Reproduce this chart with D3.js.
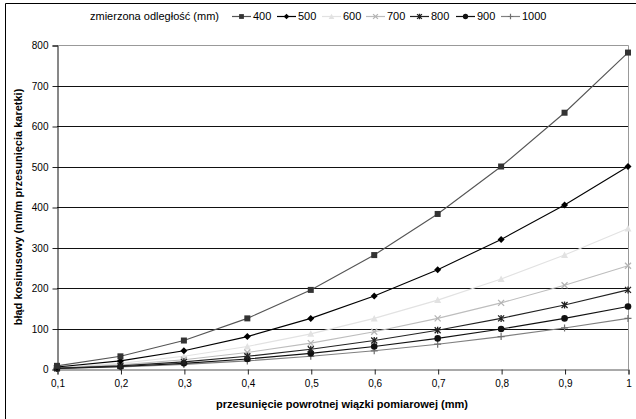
<!DOCTYPE html>
<html><head><meta charset="utf-8">
<script src="https://cdnjs.cloudflare.com/ajax/libs/d3/7.8.5/d3.min.js"></script>
<style>body{margin:0;background:#fff;font-family:"Liberation Sans",Arial,sans-serif;}</style>
</head><body>
<svg id="c" width="636" height="419"></svg>
<script>
const xValues = [0.1,0.2,0.3,0.4,0.5,0.6,0.7,0.8,0.9,1.0];
const xTickLabels = ["0,1","0,2","0,3","0,4","0,5","0,6","0,7","0,8","0,9","1"];
const yTicks = [0,100,200,300,400,500,600,700,800];
const seriesNames = ["400","500","600","700","800","900","1000"];
const s400 = [7.8,31.3,70.3,125,195.3,281.3,382.8,500,632.8,781.3];
const s500 = [5,20,45,80,125,180,245,320,405,500];
const s600 = [3.5,13.9,31.3,55.6,86.8,125,170.1,222.2,281.3,347.2];
const s700 = [2.6,10.2,23,40.8,63.8,91.8,125,163.3,206.6,255.1];
const s800 = [2,7.8,17.6,31.3,48.8,70.3,95.7,125,158.2,195.3];
const s900 = [1.5,6.2,13.9,24.7,38.6,55.6,75.6,98.8,125,154.3];
const s1000 = [1.25,5,11.3,20,31.3,45,61.3,80,101.3,125];
const seriesValues = [s400,s500,s600,s700,s800,s900,s1000];

const styles = [
  {line:"#555", fill:"#333", stroke:"#333", m:"square"},
  {line:"#000", fill:"#000", stroke:"#000", m:"diamond"},
  {line:"#e2e2e2", fill:"#e2e2e2", stroke:"#e2e2e2", m:"triangle"},
  {line:"#bdbdbd", fill:"none", stroke:"#b5b5b5", m:"x"},
  {line:"#222", fill:"none", stroke:"#222", m:"star"},
  {line:"#111", fill:"#111", stroke:"#111", m:"circle"},
  {line:"#808080", fill:"none", stroke:"#707070", m:"plus"}
];

const svg = d3.select("#c");
const L=57, R=628, T=45, B=369;
const x = d3.scaleLinear().domain([0.1,1]).range([L,R]);
const y = d3.scaleLinear().domain([0,800]).range([B,T]);

// outer frame (only top and left visible)
svg.append("path").attr("d","M5.5,419V3.5H636").attr("fill","none").attr("stroke","#000").attr("stroke-width",1);

// gridlines
svg.append("g").selectAll("line").data(yTicks.filter(d=>d>0 && d<800)).join("line")
  .attr("x1",L).attr("x2",R).attr("y1",d=>Math.round(y(d))+0.5).attr("y2",d=>Math.round(y(d))+0.5)
  .attr("stroke","#111").attr("stroke-width",1);
// plot border (top, right)
svg.append("path").attr("d",`M${L},${T+0.5}H${R+0.5}V${B}`).attr("fill","none").attr("stroke","#999");

// axes
const yAxis = d3.axisLeft(y).tickValues(yTicks).tickSize(5).tickPadding(4);
const gy = svg.append("g").attr("transform",`translate(${L+0.5},0.5)`).call(yAxis);
const xAxis = d3.axisBottom(x).tickValues(xValues).tickFormat((d,i)=>xTickLabels[i]).tickSize(5).tickPadding(5);
const gx = svg.append("g").attr("transform",`translate(0.5,${B+0.5})`).call(xAxis);
gy.select(".domain").attr("stroke","#111");
gx.select(".domain").attr("stroke","#555");
[gx,gy].forEach(g=>{
  g.selectAll(".tick line").attr("stroke","#222");
  g.selectAll("text").attr("font-family","Liberation Sans, Arial, sans-serif").attr("font-size",10).attr("fill","#000");
});

// axis titles
svg.append("text").attr("x",342).attr("y",408).attr("text-anchor","middle")
  .attr("font-weight","bold").attr("font-size",11).text("przesunięcie powrotnej wiązki pomiarowej (mm)");
svg.append("text").attr("transform","translate(22,207) rotate(-90)").attr("text-anchor","middle")
  .attr("font-weight","bold").attr("font-size",11).text("błąd kosinusowy (nm/m przesunięcia karetki)");

function marker(g, type, st, cx, cy, sc){
  sc = sc||1;
  if(type==="square") g.append("rect").attr("x",cx-3*sc).attr("y",cy-3*sc).attr("width",6*sc).attr("height",6*sc).attr("fill",st.fill);
  else if(type==="diamond") g.append("path").attr("d",`M${cx},${cy-3.5*sc}L${cx+3.5*sc},${cy}L${cx},${cy+3.5*sc}L${cx-3.5*sc},${cy}Z`).attr("fill",st.fill);
  else if(type==="triangle") g.append("path").attr("d",`M${cx},${cy-3.5*sc}L${cx+3.5*sc},${cy+3*sc}L${cx-3.5*sc},${cy+3*sc}Z`).attr("fill",st.fill);
  else if(type==="x") g.append("path").attr("d",`M${cx-3*sc},${cy-3*sc}L${cx+3*sc},${cy+3*sc}M${cx+3*sc},${cy-3*sc}L${cx-3*sc},${cy+3*sc}`).attr("stroke",st.stroke).attr("stroke-width",1.3);
  else if(type==="star") g.append("path").attr("d",`M${cx-3*sc},${cy-3*sc}L${cx+3*sc},${cy+3*sc}M${cx+3*sc},${cy-3*sc}L${cx-3*sc},${cy+3*sc}M${cx},${cy-3.5*sc}L${cx},${cy+3.5*sc}`).attr("stroke",st.stroke).attr("stroke-width",1.3);
  else if(type==="circle") g.append("circle").attr("cx",cx).attr("cy",cy).attr("r",3.3*sc).attr("fill",st.fill);
  else if(type==="plus") g.append("path").attr("d",`M${cx-3.5*sc},${cy}L${cx+3.5*sc},${cy}M${cx},${cy-3.5*sc}L${cx},${cy+3.5*sc}`).attr("stroke",st.stroke).attr("stroke-width",1.2);
}

const line = d3.line().x((d,i)=>x(xValues[i])).y(d=>y(d));
const order = [2,3,6,5,4,1,0];
order.forEach(si=>{
  const st = styles[si];
  const g = svg.append("g");
  g.append("path").attr("d",line(seriesValues[si])).attr("fill","none").attr("stroke",st.line).attr("stroke-width",1.1);
  seriesValues[si].forEach((v,i)=>marker(g, st.m, st, x(xValues[i]), y(v)));
});

// legend
const lg = svg.append("g").attr("font-size",11);
lg.append("text").attr("x",90).attr("y",20).text("zmierzona odległość (mm)");
const legX = [232,277,322,366,410,456,501];
seriesNames.forEach((n,i)=>{
  const st = styles[i];
  const g = lg.append("g");
  g.append("line").attr("x1",legX[i]).attr("x2",legX[i]+19).attr("y1",16.5).attr("y2",16.5).attr("stroke",st.line).attr("stroke-width",1.2);
  marker(g, st.m, st, legX[i]+9.5, 16.5, 0.8);
  g.append("text").attr("x",legX[i]+21).attr("y",20).text(n);
});
</script>
</body></html>
